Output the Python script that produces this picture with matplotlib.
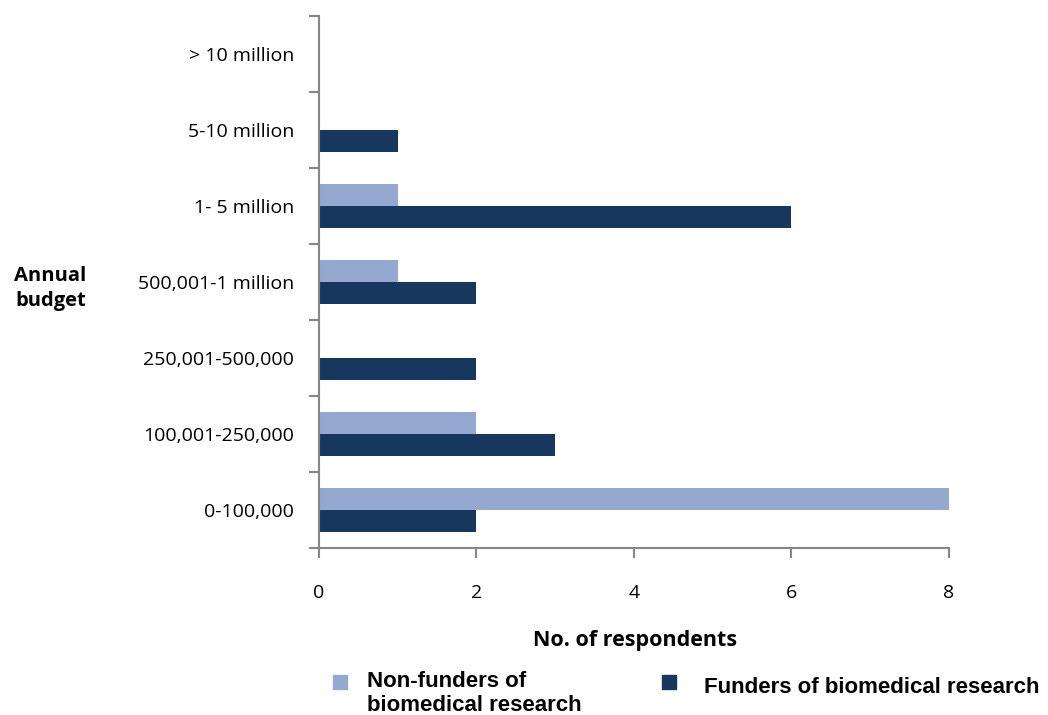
import matplotlib.pyplot as plt
import numpy as np
from matplotlib.patches import Rectangle

budgets = ["0-100,000", "100,001-250,000", "250,001-500,000", "500,001-1 million",
           "1- 5 million", "5-10 million", "> 10 million"]
non_funders = [8, 2, 0, 1, 1, 0, 0]
funders = [2, 3, 2, 2, 6, 1, 0]

light = "#95A9D0"
dark = "#17375E"
grey = "#868686"

plt.rcParams['font.family'] = ['Open Sans', 'DejaVu Sans']

fig = plt.figure(figsize=(10.48, 7.15), dpi=100)
ax = fig.add_axes([0.3044, 0.2336, 0.6011, 0.744])

y = np.arange(len(budgets))
h = 0.29
ax.barh(y + h / 2, non_funders, height=h, color=light)
ax.barh(y - h / 2, funders, height=h, color=dark)

ax.set_xlim(0, 8)
ax.set_ylim(-0.5, len(budgets) - 0.5)
ax.set_xticks([0, 2, 4, 6, 8])
ax.set_yticks(y)
ax.set_yticklabels(budgets)
ax.set_yticks(np.arange(-0.5, len(budgets)), minor=True)
ax.tick_params(axis='y', which='major', length=0, pad=18, labelsize=14)
ax.tick_params(axis='y', which='minor', length=7, width=1.5, color=grey, direction='out')
ax.tick_params(axis='x', length=7, width=1.5, color=grey, direction='out', pad=19, labelsize=14)

for s in ['top', 'right']:
    ax.spines[s].set_visible(False)
for s in ['left', 'bottom']:
    ax.spines[s].set_color(grey)
    ax.spines[s].set_linewidth(1.5)

fig.text(0.606, 0.104, "No. of respondents", ha='center', va='center',
         fontsize=15.5, fontweight='bold')
fig.text(0.048, 0.596, "Annual\nbudget", ha='center', va='center',
         fontsize=14.5, fontweight='bold', linespacing=1.35)

# legend drawn by hand: two entries side by side under the axis label
leg_font = dict(fontsize=16, fontweight='bold', family='Liberation Sans')
fig.patches.append(Rectangle((0.318, 0.037), 0.013, 0.019, color=light,
                             transform=fig.transFigure))
fig.text(0.35, 0.062, "Non-funders of\nbiomedical research", ha='left', va='top',
         linespacing=1.2, **leg_font)
fig.patches.append(Rectangle((0.632, 0.037), 0.013, 0.019, color=dark,
                             transform=fig.transFigure))
fig.text(0.672, 0.039, "Funders of biomedical research", ha='left', va='center', **leg_font)

fig.savefig("out.png", dpi=100)
